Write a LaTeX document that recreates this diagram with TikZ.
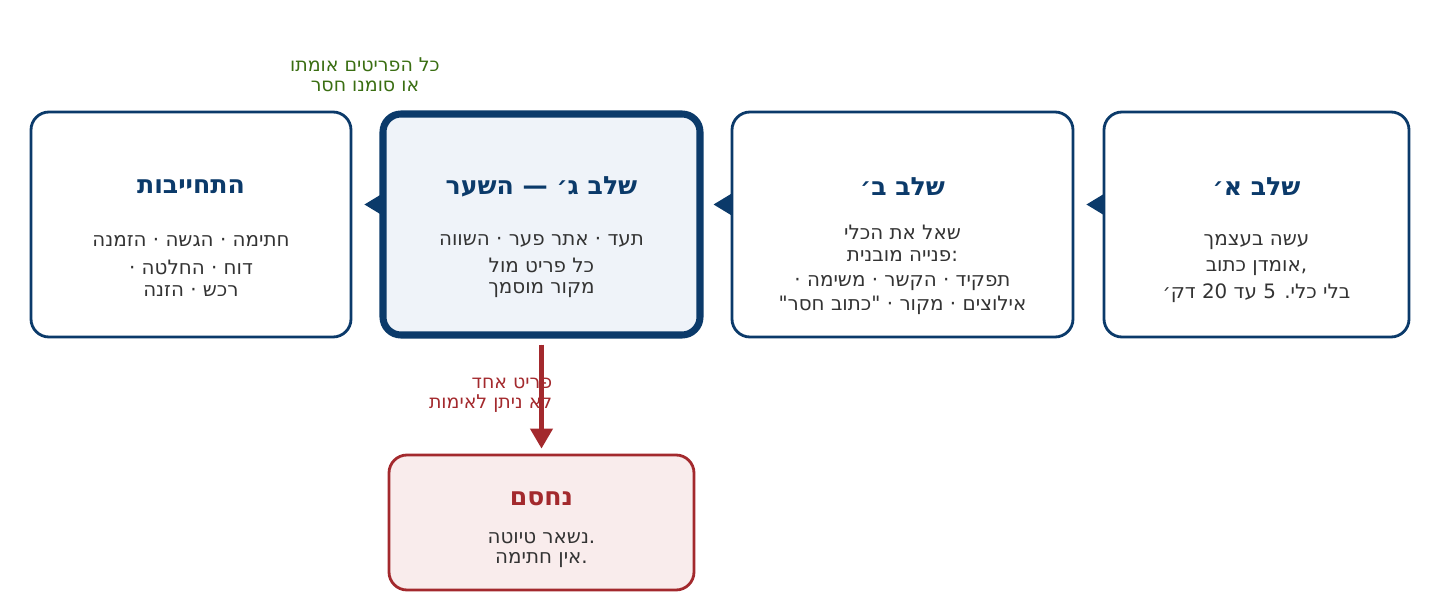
\documentclass[tikz,border=0pt]{standalone}
\usepackage{fontspec}
\setmainfont{DejaVu Sans}
\usetikzlibrary{arrows.meta,positioning,calc}
\TeXXeTstate=1
\definecolor{gateNavy}{HTML}{0B3A6A}
\definecolor{gateFill}{HTML}{EFF3F9}
\definecolor{gateRed}{HTML}{A3292D}
\definecolor{gateRedFill}{HTML}{F9ECEC}
\definecolor{gateGreen}{HTML}{3A6E12}
\definecolor{gateText}{HTML}{333333}
\newcommand{\rl}[1]{\beginR #1\endR}

\begin{document}
\begin{tikzpicture}[
every node/.style={font=\fontsize{11}{13}\selectfont, text=gateText},
box/.style={draw=gateNavy, line width=1.6pt, rounded corners=0.36cm, fill=white, minimum height=4.5cm, inner sep=0pt},
gate/.style={box, line width=4pt, fill=gateFill},
stop/.style={draw=gateRed, line width=1.6pt, rounded corners=0.36cm, fill=gateRedFill, minimum width=6.1cm, minimum height=2.7cm, inner sep=0pt},
title/.style={font=\fontsize{14.3}{16}\selectfont\bfseries, text=gateNavy},
body/.style={align=center, anchor=north, font=\fontsize{11.3}{14.5}\selectfont},
advance/.style={-{Triangle[length=0.36cm,width=0.42cm]}, draw=gateNavy, fill=gateNavy, line width=1.6pt, shorten >=0.24cm},
fail/.style={-{Triangle[length=0.4cm,width=0.44cm]}, draw=gateRed, fill=gateRed, line width=2.4pt}
]
\useasboundingbox (0,0) rectangle (28.8,12);

% stage boxes, right to left
\node[box, minimum width=6.1cm] (A) at (25.13,7.51) {};
\node[box, minimum width=6.82cm] (B) at (18.05,7.51) {};
\node[gate, minimum width=6.34cm, minimum height=4.42cm] (C) at (10.83,7.51) {};
\node[box, minimum width=6.4cm] (D) at (3.82,7.51) {};
\node[stop] (E) at (10.83,1.55) {};

% titles
\node[title] (At) at ($(A.north)+(0,-1.52)$) {\rl{שלב א׳}};
\node[title] (Bt) at ($(B.north)+(0,-1.52)$) {\rl{שלב ב׳}};
\node[title] (Ct) at ($(A.north -| C)+(0,-1.52)$) {\rl{שלב ג׳ — השער}};
\node[title] (Dt) at ($(D.north)+(0,-1.52)$) {\rl{התחייבות}};
\node[title, text=gateRed] (Et) at ($(E.north)+(0,-0.9)$) {\rl{נחסם}};

% bodies
\node[body] (Ab) at ($(A.north)+(0,-2.36)$) {\rl{עשה בעצמך}\\\rl{אומדן כתוב},\\[1pt]\rl{בלי כלי. 5 עד 20 דק׳}};
\node[body] (Bb) at ($(B.north)+(0,-2.16)$) {\rl{שאל את הכלי}\\[-2pt]\rl{פנייה מובנית}:\\\rl{תפקיד · הקשר · משימה ·}\\[-1pt]\rl{אילוצים · מקור · \textquotedbl כתוב חסר\textquotedbl}};
\node[body] (Cb) at ($(A.north -| C)+(0,-2.36)$) {\rl{תעד · אתר פער · השווה}\\[1pt]\rl{כל פריט מול}\\[-3pt]\rl{מקור מוסמך}};
\node[body] (Db) at ($(D.north)+(0,-2.38)$) {\rl{חתימה · הגשה · הזמנה}\\[1pt]\rl{דוח · החלטה ·}\\[-2pt]\rl{רכש · הזנה}};
\node[body] (Eb) at ($(E.north)+(0,-1.46)$) {\rl{נשאר טיוטה}.\\[-3pt]\rl{אין חתימה}.};

% connectors
\draw[advance] ($(A.west)+(0,0.4)$) -- ($(B.east)+(0,0.4)$);
\draw[advance] ($(B.west)+(0,0.4)$) -- ($(C.east)+(-0.04,0.4)$);
\draw[advance] ($(C.west)+(0.04,0.4)$) -- ($(D.east)+(0,0.4)$);
\draw[fail] ($(C.south)+(0,-0.12)$) -- ($(E.north)+(0,0.1)$);

% edge labels
\node[align=center, text=gateGreen, font=\fontsize{10.8}{11.5}\selectfont] (ok) at (7.3,10.5) {\rl{כל הפריטים אומתו}\\\rl{או סומנו חסר}};
\node[align=right, text=gateRed, anchor=east, font=\fontsize{10.8}{11.5}\selectfont] (bad) at (11.17,4.1) {\rl{פריט אחד}\\\rl{לא ניתן לאימות}};
\end{tikzpicture}
\end{document}
